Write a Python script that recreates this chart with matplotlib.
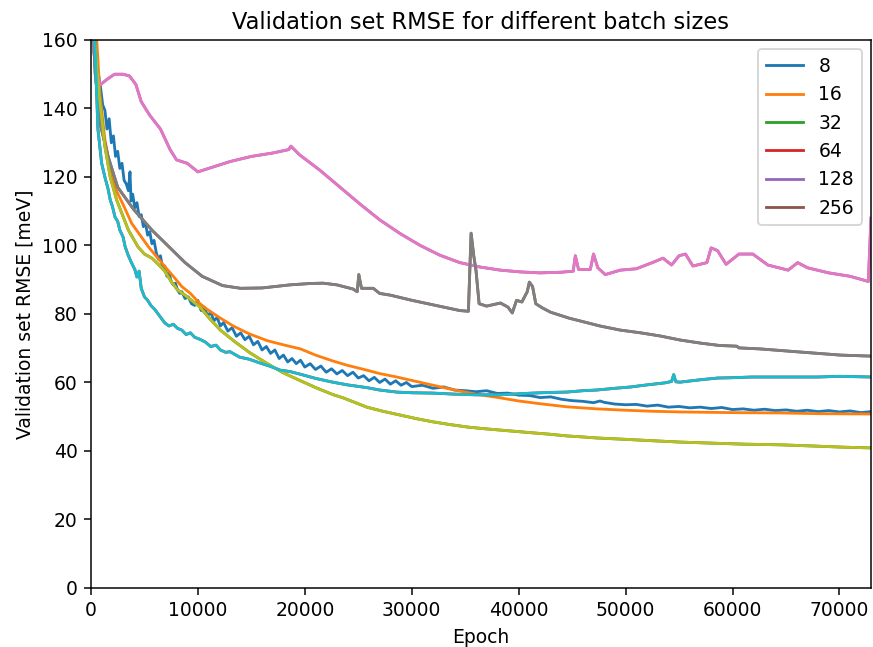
import matplotlib
matplotlib.use('Agg')
import matplotlib.pyplot as plt

# Batch sizes shown in the legend
batch_sizes = ['8', '16', '32', '64', '128', '256']

# batch 8 (noisy)
ep_8 = [0, 300, 600, 900, 1100, 1300, 1500, 1700, 1900, 2100, 2300, 2500, 2700, 2900,
        3100, 3300, 3500, 3650, 3750, 3900, 4100, 4300, 4500, 4700, 4900, 5100, 5300,
        5500, 5700, 5900, 6100, 6300, 6500, 6700, 6900, 7100, 7300, 7500, 7700, 7900,
        8100, 8300, 8500, 8800, 9100, 9400, 9700, 10000, 10300, 10600, 10900, 11200,
        11500, 11800, 12100, 12400, 12800, 13200, 13600, 14000, 14400, 14800, 15200,
        15600, 16000, 16400, 16800, 17200, 17600, 18000, 18400, 18800, 19200, 19600,
        20000, 20500, 21000, 21500, 22000, 22500, 23000, 23500, 24000, 24500, 25000,
        25500, 26000, 26500, 27000, 27500, 28000, 28500, 29000, 29500, 30000, 31000,
        32000, 33000, 34000, 35000, 36000, 37000, 38000, 39000, 40000, 41000, 42000,
        43000, 44000, 45000, 46000, 47000, 47600, 48000, 49000, 50000, 51000, 52000,
        53000, 54000, 55000, 56000, 57000, 58000, 59000, 60000, 61000, 62000, 63000,
        64000, 65000, 66000, 67000, 68000, 69000, 70000, 71000, 72000, 72950]
val_8 = [168, 160, 152, 146, 141, 139.5, 134, 137, 130, 132, 126, 127.5, 122.5, 124,
         119, 118, 116, 121.5, 113, 115, 111, 112.5, 108.5, 109, 105.5, 106.5, 103,
         104, 100.5, 101.5, 98, 96, 97, 93.5, 94, 91, 92, 89.5, 88.5, 89,
         87, 86, 86.5, 84.5, 85, 83, 82.5, 84, 81, 82, 79.5, 80.5,
         78, 79, 76.5, 77.5, 75, 76, 73.5, 74.5, 72.5, 73.5, 71,
         72, 69.5, 70.5, 68.5, 69.5, 67, 68, 66, 67, 65.5, 66.5,
         64.5, 65.5, 63.8, 64.8, 63, 64, 62.5, 63.5, 62, 63, 61.3,
         62, 60.5, 61.5, 60, 61, 59.5, 60.5, 59.2, 60, 58.8, 59.2,
         58.3, 58.7, 57.8, 57.6, 57.3, 57.6, 56.8, 56.9, 56.3, 56.2, 55.6,
         55.8, 55.1, 54.7, 54.5, 54.1, 54.6, 54.2, 53.7, 53.5, 53.6, 53.1,
         53.4, 52.8, 53, 52.6, 52.8, 52.4, 52.7, 52.1, 52.3, 51.9, 52.2,
         51.8, 52, 51.6, 51.9, 51.5, 51.8, 51.4, 51.7, 51.2, 51.5]

# batch 16
ep_16 = [0, 300, 560, 840, 1300, 1800, 2300, 3000, 3800, 4600, 5400, 6200, 7000, 7700,
         8500, 9300, 10200, 10800, 12000, 13300, 14800, 16500, 18000, 19600, 21000,
         22600, 24000, 25800, 27000, 28600, 30000, 32000, 34000, 36000, 38300, 40000,
         42000, 44500, 47300, 50000, 52500, 55100, 60000, 64500, 68000, 72950]
val_16 = [190, 172, 159, 144, 131, 122.5, 116.5, 112, 106.5, 103, 99.5, 96.5, 93.5, 91,
          88, 86, 83, 81.5, 79, 76.5, 74.2, 72.2, 71, 69.8, 68,
          66.3, 65, 63.6, 62.6, 61.6, 60.6, 59.2, 57.8, 56.6, 55.5, 54.6,
          53.8, 52.9, 52.3, 51.9, 51.6, 51.4, 51.2, 51.1, 50.9, 50.8]

# batch 32
ep_32 = [0, 300, 800, 1300, 1800, 2400, 3000, 3500, 4400, 5000, 5700, 6300, 6900, 7500,
         8100, 8800, 9400, 10200, 11000, 12100, 13500, 14900, 16500, 18000, 19600,
         21100, 22600, 23600, 25800, 27300, 28900, 30500, 32000, 33600, 35200, 36800,
         38300, 39800, 41300, 42900, 44500, 46000, 47300, 50000, 52500, 55100, 58000,
         61000, 64500, 68000, 70500, 72950]
val_32 = [185, 162, 143, 129, 120, 113.3, 108.5, 104.5, 99.6, 97.5, 96.3, 94.5, 92.5, 89.5,
          87, 85.5, 84, 82, 79, 75.3, 71.8, 68.6, 65.5, 62.8, 60.5,
          58.4, 56.5, 55.5, 52.8, 51.6, 50.5, 49.4, 48.5, 47.7, 47, 46.5,
          46.1, 45.7, 45.3, 44.9, 44.4, 44.1, 43.8, 43.4, 43, 42.6, 42.3,
          42, 41.8, 41.4, 41.1, 40.9]

# batch 64
ep_64 = [0, 370, 650, 1000, 1300, 1600, 1800, 2000, 2250, 2500, 2700, 3000, 3200, 3500,
         3800, 4100, 4300, 4500, 4700, 5000, 5300, 5600, 6000, 6400, 6900, 7300, 7700,
         8100, 8500, 8900, 9300, 9700, 10200, 10700, 11200, 11700, 12100, 12600, 13000,
         13900, 14800, 15800, 16700, 17700, 18600, 19600, 21000, 22600, 24000, 25800,
         27000, 28600, 30000, 32000, 34000, 36000, 38300, 40000, 41300, 43000, 44500,
         46000, 47300, 49000, 50500, 52000, 53700, 54300, 54500, 54700, 55100, 57000,
         58600, 60000, 61800, 64500, 68000, 70000, 72950]
val_64 = [170, 159, 134, 124, 120, 116.5, 113.3, 111.5, 108.3, 107, 104.5, 102.5, 99.6, 97,
          94.9, 93, 90.8, 92.5, 87.5, 85, 84, 82.5, 81.2, 79.5, 77.4, 76.5, 77,
          75.8, 75.3, 74, 74.5, 73.2, 72.6, 71.8, 70.5, 70.9, 69.5, 68.8, 69,
          67.4, 66.8, 65.7, 64.8, 63.6, 63.2, 62.4, 61.2, 60.1, 59.3, 58.5,
          57.8, 57.2, 57, 56.9, 56.6, 56.4, 56.4, 56.7, 56.9, 57.1, 57.2,
          57.6, 57.8, 58.3, 58.7, 59.3, 59.9, 60.3, 62.3, 60.2, 60.1, 60.8,
          61.3, 61.4, 61.6, 61.6, 61.6, 61.8, 61.6]

# batch 128
ep_128 = [0, 500, 900, 1500, 2200, 3000, 3600, 4200, 4700, 5500, 6500, 7400, 8000, 9000,
          10000, 11000, 13000, 15000, 17000, 18500, 18700, 19500, 21400, 23300, 25200,
          27000, 28900, 30800, 32600, 34500, 36400, 38300, 40100, 42000, 44000, 45100,
          45300, 45600, 46700, 47000, 47400, 48100, 49500, 51000, 52500, 53500, 54300,
          55000, 55600, 56300, 57600, 58000, 58600, 59400, 60600, 61900, 63300, 65200,
          66100, 67000, 69000, 71000, 72700, 72950]
val_128 = [165, 150, 147, 148.5, 150, 150, 149.5, 147, 142, 138, 134, 128, 125, 124,
           121.5, 122.5, 124.5, 126, 127, 128, 129, 126.5, 122, 117, 112,
           107.5, 103.5, 100, 97.2, 95, 93.7, 92.8, 92.3, 92, 92.2, 92.5,
           97, 93, 93, 97.5, 93.5, 91.5, 92.8, 93.2, 95, 96.3, 94.3,
           97, 97.5, 94, 95, 99.3, 98.5, 94.5, 97.5, 97.5, 94.3, 92.8,
           95, 93.5, 92, 91, 89.5, 108]

# batch 256
ep_256 = [0, 400, 900, 1600, 2500, 4000, 5700, 7300, 8800, 10400, 12300, 14000, 16000,
          18600, 20500, 21700, 23000, 24500, 24900, 25050, 25300, 26400, 27000, 28000,
          30000, 31500, 33000, 34500, 35300, 35550, 35800, 36000, 36300, 37000, 38300,
          39000, 39400, 39800, 40300, 40800, 41000, 41300, 41600, 42200, 43000, 44700,
          47600, 49500, 51400, 53200, 55100, 57000, 58800, 60400, 60600, 62600, 66300,
          70100, 72950]
val_256 = [175, 150, 135, 126, 117, 110.5, 104.5, 99.6, 95, 91, 88.3, 87.5, 87.6,
           88.5, 88.9, 89, 88.5, 87.3, 86.5, 91.5, 87.5, 87.5, 86, 85.5,
           84, 83, 82, 81, 80.8, 103.6, 97, 93, 83, 82.3, 83.2,
           82, 80.3, 84, 83.5, 86.5, 89.3, 88, 83, 81.8, 80.5, 78.8,
           76.5, 75.3, 74.5, 73.6, 72.4, 71.5, 70.8, 70.6, 70.1, 69.8, 68.9,
           68, 67.7]

plt.figure(figsize=(873 / 135, 647 / 135), dpi=135)
ax = plt.axes([0.1042, 0.0912, 0.8935, 0.847])

epochs = [ep_8, ep_16, ep_32, ep_64, ep_128, ep_256]
values = [val_8, val_16, val_32, val_64, val_128, val_256]
for ep, val, label in zip(epochs, values, batch_sizes):
    ax.plot(ep, val, label=label)

# the same runs were drawn a second time, on top, with the next colours
for ep, val, col in [(ep_128, val_128, 'C6'), (ep_256, val_256, 'C7'),
                     (ep_32, val_32, 'C8'), (ep_64, val_64, 'C9')]:
    ax.plot(ep, val, color=col)

ax.set_xlim(0, 72950)
ax.set_ylim(0, 160)
ax.set_xlabel('Epoch')
ax.set_ylabel('Validation set RMSE [meV]')
ax.set_title('Validation set RMSE for different batch sizes')
ax.legend(loc='upper right')

plt.savefig('out.png', dpi=135)
